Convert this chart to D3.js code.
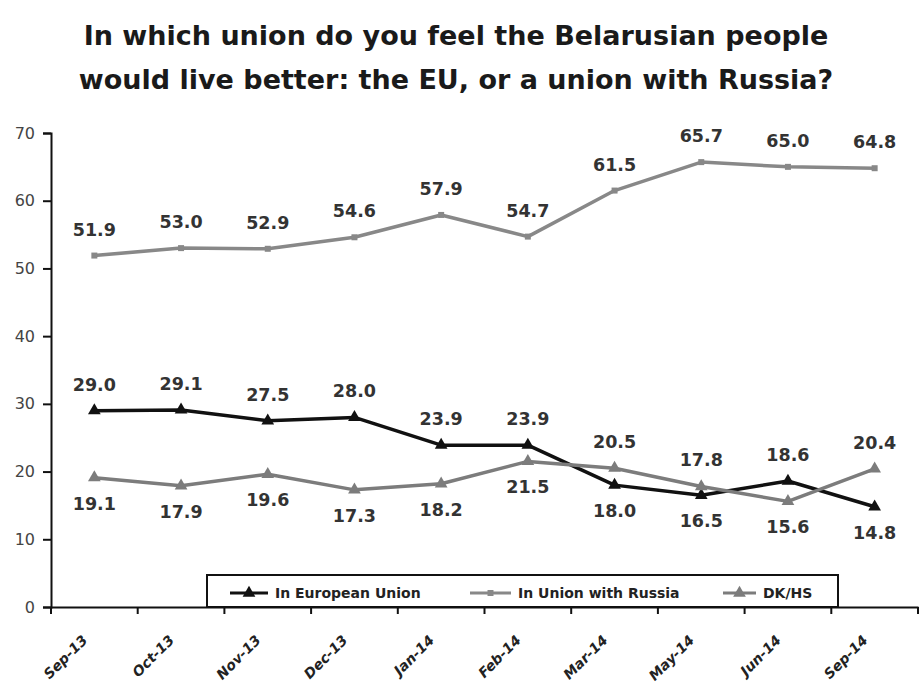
<!DOCTYPE html>
<html><head><meta charset="utf-8">
<script src="https://cdn.jsdelivr.net/npm/d3@7"></script>
<style>body{margin:0;background:#fff}svg{display:block}</style>
</head><body>
<svg id="c" width="919" height="688"></svg>
<script>
const titleLines = ["In which union do you feel the Belarusian people", "would live better: the EU, or a union with Russia?"];
const categories = ["Sep-13","Oct-13","Nov-13","Dec-13","Jan-14","Feb-14","Mar-14","May-14","Jun-14","Sep-14"];
const euValues = [29.0,29.1,27.5,28.0,23.9,23.9,18.0,16.5,18.6,14.8];
const russiaValues = [51.9,53.0,52.9,54.6,57.9,54.7,61.5,65.7,65.0,64.8];
const dkValues = [19.1,17.9,19.6,17.3,18.2,21.5,20.5,17.8,15.6,20.4];
const seriesNames = ["In European Union","In Union with Russia","DK/HS"];
const yTicks = [0,10,20,30,40,50,60,70];
// label placement (style): 1 = above point, -1 = below point
const euLabelSide = [1,1,1,1,1,1,-1,-1,1,-1];
const russiaLabelSide = [1,1,1,1,1,1,1,1,1,1];
const dkLabelSide = [-1,-1,-1,-1,-1,-1,1,1,-1,1];

const svg = d3.select("#c");
const FONT = "'DejaVu Sans', sans-serif";
const x = d3.scaleBand().domain(categories).range([51, 918]);
const y = d3.scaleLinear().domain([0,70]).range([607,133]);

// title
svg.append("g").selectAll("text").data(titleLines).join("text")
  .attr("x", 456).attr("y", (d,i)=> 45 + i*44)
  .attr("text-anchor","middle").attr("font-family",FONT).attr("font-weight","bold")
  .attr("font-size",27).attr("fill","#1a1a1a").text(d=>d);

// y axis
const yAxis = svg.append("g").attr("transform","translate(51,0)")
  .call(d3.axisLeft(y).tickValues(yTicks).tickSize(8).tickPadding(8).tickFormat(d3.format("d")));
yAxis.select(".domain").attr("stroke","#111").attr("stroke-width",2);
yAxis.selectAll(".tick line").attr("stroke","#111").attr("stroke-width",2);
yAxis.selectAll(".tick text").attr("font-family",FONT).attr("font-size",16).attr("fill","#444");

// x axis
const xAxis = svg.append("g").attr("transform","translate(0,607)")
  .call(d3.axisBottom(x).tickSize(0).tickFormat(""));
xAxis.select(".domain").attr("stroke","#111").attr("stroke-width",2);
xAxis.selectAll(".tick").remove();
const bounds = categories.map(c=>x(c)).concat([x.range()[1]]);
svg.append("g").selectAll("line").data(bounds).join("line")
  .attr("x1",d=>d).attr("x2",d=>d).attr("y1",607).attr("y2",614)
  .attr("stroke","#111").attr("stroke-width",2);
svg.append("g").selectAll("text").data(categories).join("text")
  .attr("transform",d=>`translate(${x(d)+x.bandwidth()/2-6},641) rotate(-45)`)
  .attr("text-anchor","end").attr("font-family",FONT).attr("font-weight","bold")
  .attr("font-style","italic").attr("font-size",14).attr("fill","#222").text(d=>d);

const cx = d => x(d)+x.bandwidth()/2;
const tri = d3.symbol().type(d3.symbolTriangle).size(70);
const sq = d3.symbol().type(d3.symbolSquare).size(36);

const series = [
  {name:seriesNames[0], values:euValues, side:euLabelSide, color:"#111", marker:tri},
  {name:seriesNames[1], values:russiaValues, side:russiaLabelSide, color:"#888", marker:sq},
  {name:seriesNames[2], values:dkValues, side:dkLabelSide, color:"#7c7c7c", marker:tri}
];
const line = d3.line().x((d,i)=>cx(categories[i])).y(d=>y(d));
series.forEach(s=>{
  const g = svg.append("g");
  g.append("path").attr("d",line(s.values)).attr("fill","none")
   .attr("stroke",s.color).attr("stroke-width",3.5).attr("stroke-linejoin","round");
  g.selectAll("path.m").data(s.values).join("path").attr("class","m")
   .attr("d",s.marker).attr("transform",(d,i)=>`translate(${cx(categories[i])},${y(d)})`)
   .attr("fill",s.color);
});
// data labels
series.forEach(s=>{
  svg.append("g").selectAll("text").data(s.values).join("text")
   .attr("x",(d,i)=>cx(categories[i]))
   .attr("y",(d,i)=>y(d) + (s.side[i]>0 ? -20 : 32))
   .attr("text-anchor","middle").attr("font-family",FONT).attr("font-weight","bold")
   .attr("font-size",17.5).attr("fill","#333").text(d=>d.toFixed(1));
});

// legend
const lg = svg.append("g");
lg.append("rect").attr("x",207).attr("y",575).attr("width",631).attr("height",32)
  .attr("fill","#fff").attr("stroke","#111").attr("stroke-width",2);
const legendX = [230, 470, 723];
const legendW = [38, 41, 33];
series.forEach((s,i)=>{
  lg.append("line").attr("x1",legendX[i]).attr("x2",legendX[i]+legendW[i]).attr("y1",593).attr("y2",593)
    .attr("stroke",s.color).attr("stroke-width",3);
  lg.append("path").attr("d",s.marker).attr("transform",`translate(${legendX[i]+legendW[i]/2},593)`).attr("fill",s.color);
  lg.append("text").attr("x",legendX[i]+legendW[i]+7).attr("y",598)
    .attr("font-family",FONT).attr("font-weight","bold").attr("font-size",14).attr("fill","#222").text(s.name);
});
xAxis.raise();
</script>
</body></html>
